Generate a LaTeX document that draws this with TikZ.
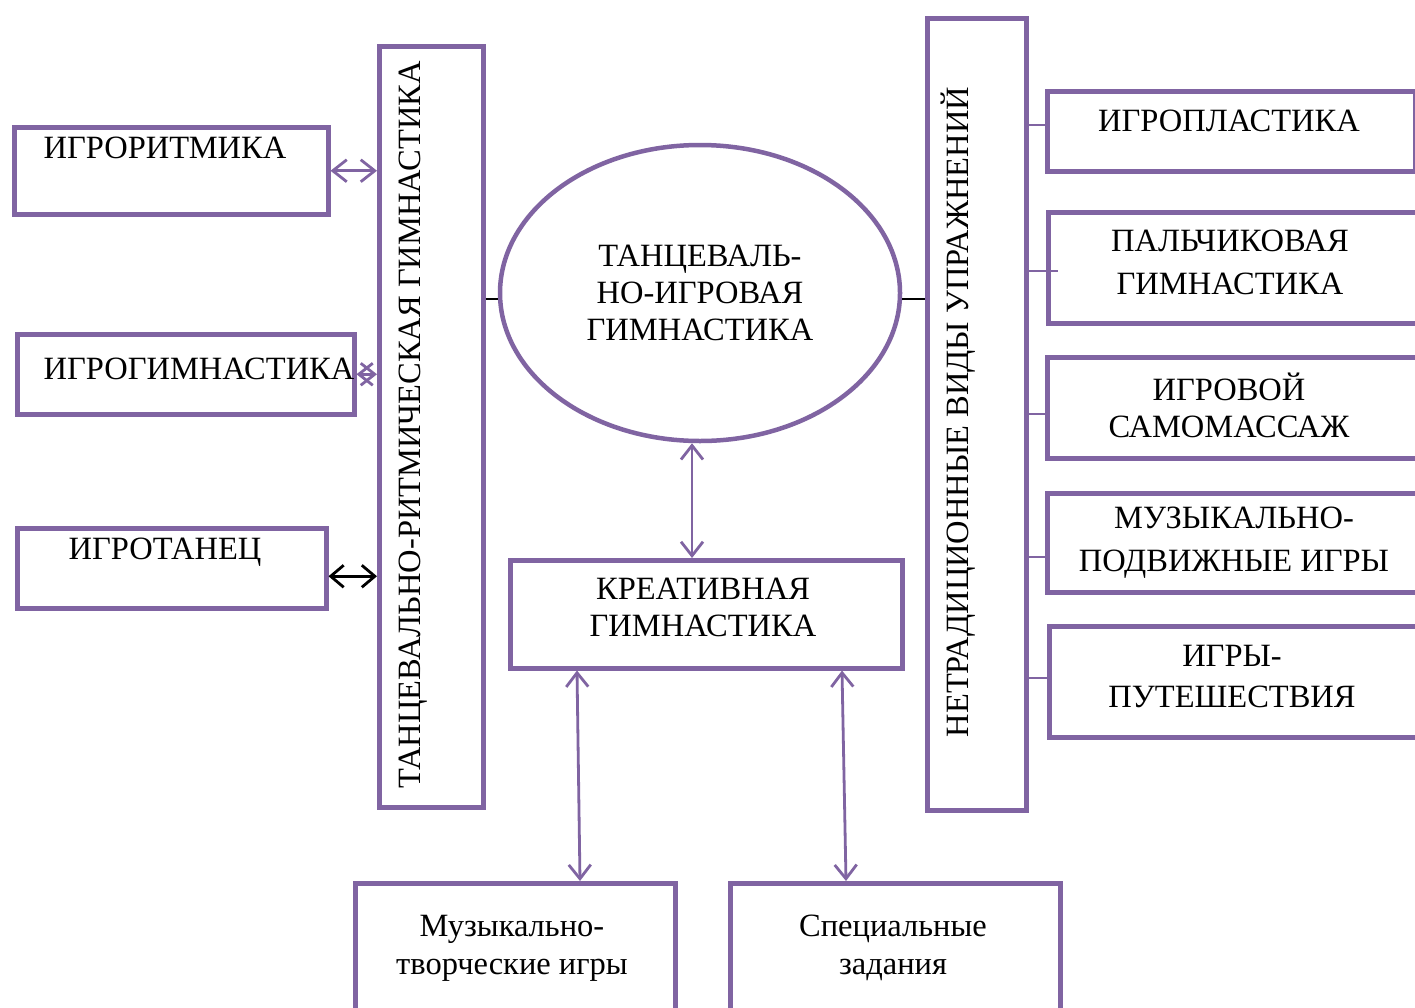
\documentclass[tikz,border=0pt]{standalone}
\usepackage{fontspec}
\setmainfont{Liberation Serif}
\usetikzlibrary{arrows.meta,shapes.geometric,calc}
\definecolor{pur}{HTML}{8064A2}
\begin{document}
\begin{tikzpicture}[x=1pt,y=-1pt,
  box/.style={draw=pur,line width=4.5pt,rectangle,inner sep=0pt,anchor=north west},
  lbl/.style={align=center,inner sep=0pt,font=\fontsize{32.5}{#1}\selectfont},
  lbl/.default=40,
  arr/.style={draw=pur,line width=2.8pt,{Straight Barb[length=14pt,width=22pt]}-{Straight Barb[length=14pt,width=22pt]}},
  barr/.style={draw=black,line width=2.8pt,{Straight Barb[length=13pt,width=22pt]}-{Straight Barb[length=13pt,width=22pt]}},
  link/.style={draw=pur,line width=2.2pt},
  blink/.style={draw=black,line width=2.2pt}]
\clip (0,0) rectangle (1415,1007);
\fill[white] (0,0) rectangle (1415,1007);

% left boxes
\node[box,minimum width=314pt,minimum height=87pt] (rr) at (12,125) {};
\node[box,minimum width=337pt,minimum height=80pt] (rg) at (15,332) {};
\node[box,minimum width=309pt,minimum height=80pt] (rt) at (15,526) {};
\node[lbl] (rrt) at (165,148) {ИГРОРИТМИКА};
\node[lbl] (rgt) at (199,369) {ИГРОГИМНАСТИКА};
\node[lbl] (rtt) at (165,552) {ИГРОТАНЕЦ};

% left vertical box
\node[box,minimum width=104pt,minimum height=761pt] (lv) at (377,44) {};
\node[lbl,rotate=90] (lvt) at (413,425) {ТАНЦЕВАЛЬНО-РИТМИЧЕСКАЯ ГИМНАСТИКА};

% ellipse
\node[draw=pur,line width=4.5pt,ellipse,inner sep=0pt,minimum width=400pt,minimum height=296pt] (ell) at (700,293) {};
\node[lbl=37] (ellt) at (700,293) {ТАНЦЕВАЛЬ-\\НО-ИГРОВАЯ\\ГИМНАСТИКА};

% right vertical box
\node[box,minimum width=99pt,minimum height=792pt] (rv) at (925,16) {};
\node[lbl,rotate=90] (rvt) at (958,412) {НЕТРАДИЦИОННЫЕ ВИДЫ УПРАЖНЕНИЙ};

% right boxes
\node[box,minimum width=368pt,minimum height=80pt] (p1) at (1045,89) {};
\node[box,minimum width=390pt,minimum height=111pt] (p2) at (1046,210) {};
\node[box,minimum width=390pt,minimum height=101pt] (p3) at (1045,355) {};
\node[box,minimum width=390pt,minimum height=99pt] (p4) at (1045,491) {};
\node[box,minimum width=390pt,minimum height=111pt] (p5) at (1047,624) {};
\node[lbl] (p1t) at (1229,121) {ИГРОПЛАСТИКА};
\node[lbl=43] (p2t) at (1230,262) {ПАЛЬЧИКОВАЯ\\ГИМНАСТИКА};
\node[lbl=37] (p3t) at (1229,405) {ИГРОВОЙ\\САМОМАССАЖ};
\node[lbl=43] (p4t) at (1234,543) {МУЗЫКАЛЬНО-\\ПОДВИЖНЫЕ ИГРЫ};
\node[lbl=41] (p5t) at (1232,677) {ИГРЫ-\\ПУТЕШЕСТВИЯ};

% creative box
\node[box,minimum width=392pt,minimum height=108pt] (kr) at (508,558) {};
\node[lbl=37] (krt) at (703,607) {КРЕАТИВНАЯ\\ГИМНАСТИКА};

% bottom boxes
\node[box,minimum width=320pt,minimum height=150pt] (b1) at (353,881) {};
\node[box,minimum width=330pt,minimum height=150pt] (b2) at (728,881) {};
\node[lbl=38] (b1t) at (512,948) {Музыкально-\\творческие игры};
\node[lbl=38] (b2t) at (893,948) {Специальные\\задания};

% connectors left
\draw[arr] (rr.east) -- (rr.east -| lv.west);
\draw[arr] (rg.east) -- (rg.east -| lv.west);
\coordinate (rtc) at ($(rt.east)+(0,8)$);
\draw[barr] (rtc) -- (rtc -| lv.west);

% ellipse side links
\coordinate (elw) at ($(ell.west)+(0,6)$);
\coordinate (ele) at ($(ell.east)+(0,6)$);
\draw[blink] (elw -| lv.east) -- (elw);
\draw[blink] (ele) -- (ele -| rv.west);

% ellipse to creative
\coordinate (es) at ($(ell.south)+(-8,0)$);
\draw[arr] (es) -- (es |- kr.north);

% creative to bottom boxes
\draw[arr] ($(kr.south west)+(69,0)$) -- ($(b1.north west)+(227,0)$);
\draw[arr] ($(kr.south west)+(334,0)$) -- ($(b2.north west)+(118,0)$);

% right links
\coordinate (y1) at (0,125);
\coordinate (y2) at (0,271);
\coordinate (y3) at (0,414);
\coordinate (y4) at (0,557);
\coordinate (y5) at (0,678);
\draw[link] (rv.east |- y1) -- (p1.west |- y1);
\draw[link] (rv.east |- y2) -- ($(p2.west |- y2)+(12,0)$);
\draw[link] (rv.east |- y3) -- (p3.west |- y3);
\draw[link] (rv.east |- y4) -- (p4.west |- y4);
\draw[link] (rv.east |- y5) -- (p5.west |- y5);
\end{tikzpicture}
\end{document}
